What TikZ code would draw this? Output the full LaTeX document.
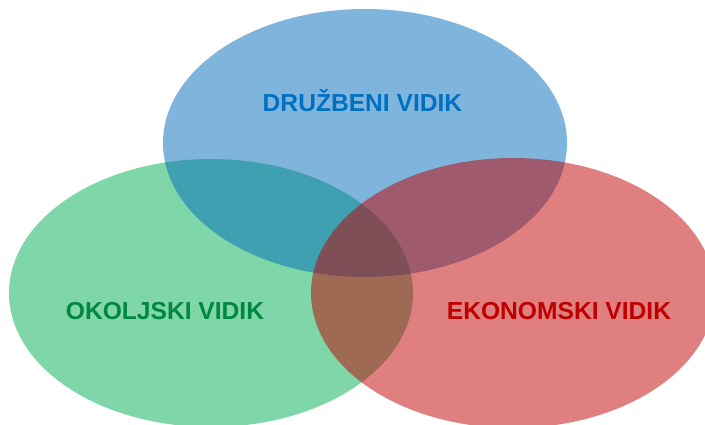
\documentclass[tikz,border=0pt]{standalone}
\usepackage{fontspec}
\setmainfont{Liberation Sans}
\usepackage{tikz}
\usetikzlibrary{positioning}

\definecolor{druzbenifill}{RGB}{0,108,188}
\definecolor{okoljskifill}{RGB}{0,173,82}
\definecolor{ekonomskifill}{RGB}{192,0,0}
\definecolor{druzbenitext}{RGB}{0,112,192}
\definecolor{okoljskitext}{RGB}{0,136,62}
\definecolor{ekonomskitext}{RGB}{192,0,0}

\begin{document}
\begin{tikzpicture}[x=1pt, y=-1pt,
    vidik/.style={anchor=base, inner sep=0pt, font=\fontsize{24.6}{28}\selectfont\bfseries},
    krog/.style={fill opacity=0.5}]

    \useasboundingbox (0,0) rectangle (705,425);
    \clip (0,0) rectangle (705,425);

    % the three circles
    \begin{scope}
        \path[krog, fill=okoljskifill] (211,293) ellipse [x radius=202pt, y radius=134pt];
        \path[krog, fill=druzbenifill] (365,143) ellipse [x radius=202pt, y radius=134pt];
        \path[krog, fill=ekonomskifill] (513,293) ellipse [x radius=202pt, y radius=135pt];
    \end{scope}

    % labels
    \node[vidik, text=druzbenitext] (druzbeni) at (362.5,111.5) {DRUŽBENI VIDIK};
    \node[vidik, text=okoljskitext] (okoljski) at (165,319) {OKOLJSKI VIDIK};
    \node[vidik, text=ekonomskitext] (ekonomski) at (559,319) {EKONOMSKI VIDIK};

\end{tikzpicture}
\end{document}
